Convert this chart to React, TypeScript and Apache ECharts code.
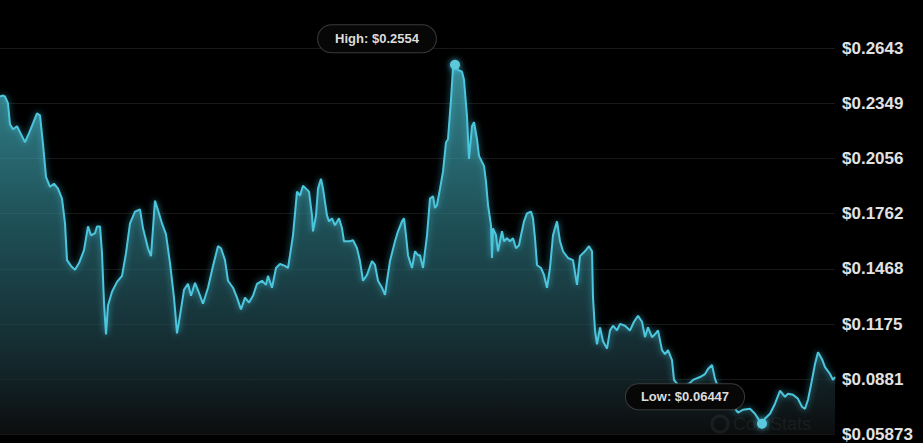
import React, { useEffect, useRef } from "react";
import * as echarts from "echarts";

// time index (0..835) and price in USD
const pricePoints: [number, number][] = [
  [0, 0.2385], [3, 0.239], [5, 0.2385], [8, 0.2348], [10, 0.2237], [13, 0.2211], [17, 0.2227], [21, 0.2185],
  [25, 0.2142], [29, 0.219], [33, 0.2242], [37, 0.2295], [40, 0.2285], [43, 0.2132], [46, 0.1958], [50, 0.1905],
  [54, 0.1921], [58, 0.1895], [62, 0.1842], [65, 0.171], [67, 0.1515], [71, 0.1484], [75, 0.1463], [79, 0.1499],
  [84, 0.1568], [88, 0.1694], [91, 0.1647], [95, 0.1658], [97, 0.1694], [100, 0.1694], [102, 0.1552], [104, 0.1289],
  [106, 0.112], [108, 0.1273], [112, 0.1347], [117, 0.1399], [122, 0.1431], [126, 0.1552], [130, 0.171], [135, 0.1773],
  [140, 0.1784], [143, 0.1684], [148, 0.1578], [151, 0.1536], [155, 0.1831], [159, 0.1763], [162, 0.171], [166, 0.1652],
  [170, 0.1499], [174, 0.1315], [177, 0.1125], [180, 0.122], [184, 0.1357], [188, 0.1389], [191, 0.1325], [195, 0.1394],
  [199, 0.1341], [203, 0.1283], [208, 0.1368], [213, 0.1484], [218, 0.1589], [221, 0.1578], [225, 0.1515], [228, 0.1405],
  [233, 0.1368], [237, 0.1315], [241, 0.1252], [245, 0.1315], [249, 0.1289], [253, 0.1325], [257, 0.1389], [262, 0.1405],
  [266, 0.1383], [268, 0.1431], [272, 0.1368], [276, 0.1473], [280, 0.1494], [285, 0.1484], [288, 0.1473], [290, 0.1541],
  [293, 0.1647], [297, 0.1879], [300, 0.1858], [303, 0.191], [306, 0.1895], [309, 0.1879], [312, 0.1752], [313, 0.1668],
  [316, 0.1752], [318, 0.1895], [321, 0.1947], [323, 0.1895], [327, 0.1752], [329, 0.1721], [332, 0.1737], [335, 0.17],
  [339, 0.1737], [342, 0.1684], [344, 0.1615], [347, 0.1615], [350, 0.1615], [353, 0.1621], [357, 0.1578], [360, 0.151],
  [363, 0.1405], [367, 0.1436], [372, 0.151], [375, 0.1489], [378, 0.1405], [382, 0.1368], [385, 0.133], [387, 0.1405],
  [390, 0.151], [395, 0.1615], [398, 0.1668], [402, 0.1721], [404, 0.1737], [406, 0.1647], [408, 0.1541], [412, 0.1473],
  [415, 0.1562], [418, 0.1541], [420, 0.1541], [423, 0.1473], [427, 0.1647], [430, 0.1842], [433, 0.1855], [435, 0.1792],
  [437, 0.1808], [440, 0.1895], [443, 0.1985], [446, 0.2142], [448, 0.2158], [451, 0.2369], [453, 0.2538], [455, 0.2554],
  [458, 0.2527], [462, 0.2517], [464, 0.2474], [467, 0.2279], [469, 0.2053], [472, 0.2227], [474, 0.2248], [477, 0.2158],
  [479, 0.2069], [482, 0.2037], [484, 0.2016], [486, 0.1932], [488, 0.1808], [491, 0.17], [492, 0.1526], [493, 0.1684],
  [496, 0.1647], [498, 0.1562], [502, 0.1668], [504, 0.1615], [507, 0.1631], [510, 0.1615], [513, 0.1631], [516, 0.1578],
  [519, 0.1594], [521, 0.1647], [524, 0.1721], [527, 0.1763], [531, 0.1773], [533, 0.1737], [535, 0.1631], [537, 0.1489],
  [541, 0.1473], [544, 0.1436], [547, 0.1368], [550, 0.1473], [553, 0.1647], [557, 0.1721], [560, 0.1615], [563, 0.1562],
  [568, 0.1526], [573, 0.1515], [577, 0.1383], [580, 0.1536], [585, 0.1562], [589, 0.1589], [592, 0.1562], [593, 0.1315],
  [595, 0.1141], [597, 0.1067], [600, 0.1157], [603, 0.1083], [607, 0.1044], [610, 0.1141], [613, 0.1166], [617, 0.1141],
  [620, 0.1176], [625, 0.1166], [630, 0.1141], [634, 0.1187], [638, 0.1218], [642, 0.1187], [645, 0.1105], [648, 0.1157],
  [652, 0.1105], [655, 0.112], [658, 0.1141], [662, 0.1036], [665, 0.1015], [668, 0.1036], [672, 0.0983], [674, 0.0878],
  [678, 0.0851], [684, 0.0841], [690, 0.0862], [693, 0.0878], [700, 0.0893], [705, 0.0909], [708, 0.0936], [712, 0.0957],
  [715, 0.0883], [720, 0.0814], [726, 0.0777], [732, 0.0746], [738, 0.0704], [743, 0.0719], [750, 0.0724], [755, 0.0698],
  [758, 0.0672], [762, 0.06447], [765, 0.0672], [770, 0.0698], [775, 0.0751], [780, 0.082], [785, 0.0788], [788, 0.0804],
  [793, 0.0799], [798, 0.0777], [802, 0.0735], [805, 0.0724], [808, 0.0772], [812, 0.0878], [815, 0.0962], [818, 0.1025],
  [822, 0.0988], [825, 0.0946], [830, 0.0909], [833, 0.0878], [835, 0.0893],
];

const yTickLabels = ["$0.05873", "$0.0881", "$0.1175", "$0.1468", "$0.1762", "$0.2056", "$0.2349", "$0.2643"];
const yInterval = 0.02936714;
const highText = "High: $0.2554";
const lowText = "Low: $0.06447";
const watermarkText = "CoinStats";

export default function App() {
  const ref = useRef<HTMLDivElement>(null);
  useEffect(() => {
    document.body.style.margin = "0";
    document.body.style.background = "#000";
    if (!ref.current) return;
    const chart = echarts.init(ref.current, null, { renderer: "svg" });

    let hi = pricePoints[0];
    let lo = pricePoints[0];
    for (const p of pricePoints) {
      if (p[1] > hi[1]) hi = p;
      if (p[1] < lo[1]) lo = p;
    }

    const pillLabel = (text: string, offset: number[], pad: number[]) => ({
      show: true,
      position: "inside",
      offset,
      formatter: text,
      color: "#dcdcdc",
      fontFamily: "Liberation Sans, Arial, sans-serif",
      fontSize: 13,
      fontWeight: "bold",
      backgroundColor: "#070707",
      borderColor: "#3a3a3a",
      borderWidth: 1,
      borderRadius: 15,
      padding: pad,
    });

    chart.setOption({
      animation: false,
      backgroundColor: "#000",
      grid: { left: 0, right: 88, top: 48, bottom: 5, containLabel: false },
      xAxis: { type: "value", min: 0, max: 835, show: false },
      yAxis: {
        type: "value",
        position: "right",
        min: yInterval * 2,
        max: yInterval * 9,
        interval: yInterval,
        z: 3,
        axisLine: { show: false },
        axisTick: { show: false },
        axisLabel: {
          show: true,
          margin: 7,
          color: "#e2e2e2",
          fontSize: 17,
          fontWeight: "bold",
          fontFamily: "Liberation Sans, Arial, sans-serif",
          formatter: (_v: number, idx: number) => yTickLabels[idx] ?? "",
          showMinLabel: true,
          showMaxLabel: true,
        },
        splitLine: { show: true, lineStyle: { color: "rgba(30,30,30,0.8)", width: 1 } },
      },
      graphic: [
        {
          type: "group",
          z: 10,
          children: [
            {
              type: "circle",
              shape: { cx: 720, cy: 424, r: 8 },
              style: { fill: "none", stroke: "rgba(255,255,255,0.18)", lineWidth: 3 },
            },
            {
              type: "text",
              x: 733,
              y: 424,
              style: {
                text: watermarkText,
                fill: "rgba(255,255,255,0.18)",
                fontSize: 18,
                fontFamily: "Liberation Sans, Arial, sans-serif",
                verticalAlign: "middle",
              },
            },
          ],
        },
      ],
      series: [
        {
          type: "line",
          data: pricePoints,
          showSymbol: false,
          smooth: false,
          clip: true,
          lineStyle: {
            color: "#4cc6dc",
            width: 2,
            shadowColor: "rgba(70,200,230,0.7)",
            shadowBlur: 6,
          },
          areaStyle: {
            color: new echarts.graphic.LinearGradient(0, 0, 0, 1, [
              { offset: 0, color: "rgba(76,196,210,0.97)" },
              { offset: 0.45, color: "rgba(44,116,126,0.95)" },
              { offset: 0.8, color: "rgba(28,57,64,1)" },
              { offset: 1, color: "#111314" },
            ]),
          },
          markPoint: {
            symbol: "circle",
            symbolSize: 10,
            itemStyle: { color: "#5cc8dc", shadowColor: "rgba(80,210,240,0.8)", shadowBlur: 6 },
            data: [
              { coord: hi, label: pillLabel(highText, [-78, -26], [7, 17]) },
              { coord: lo, label: pillLabel(lowText, [-77, -27], [6, 15]) },
            ],
          },
        },
      ],
    });
    return () => chart.dispose();
  }, []);
  return <div ref={ref} style={{ width: 923, height: 443, background: "#000" }} />;
}
